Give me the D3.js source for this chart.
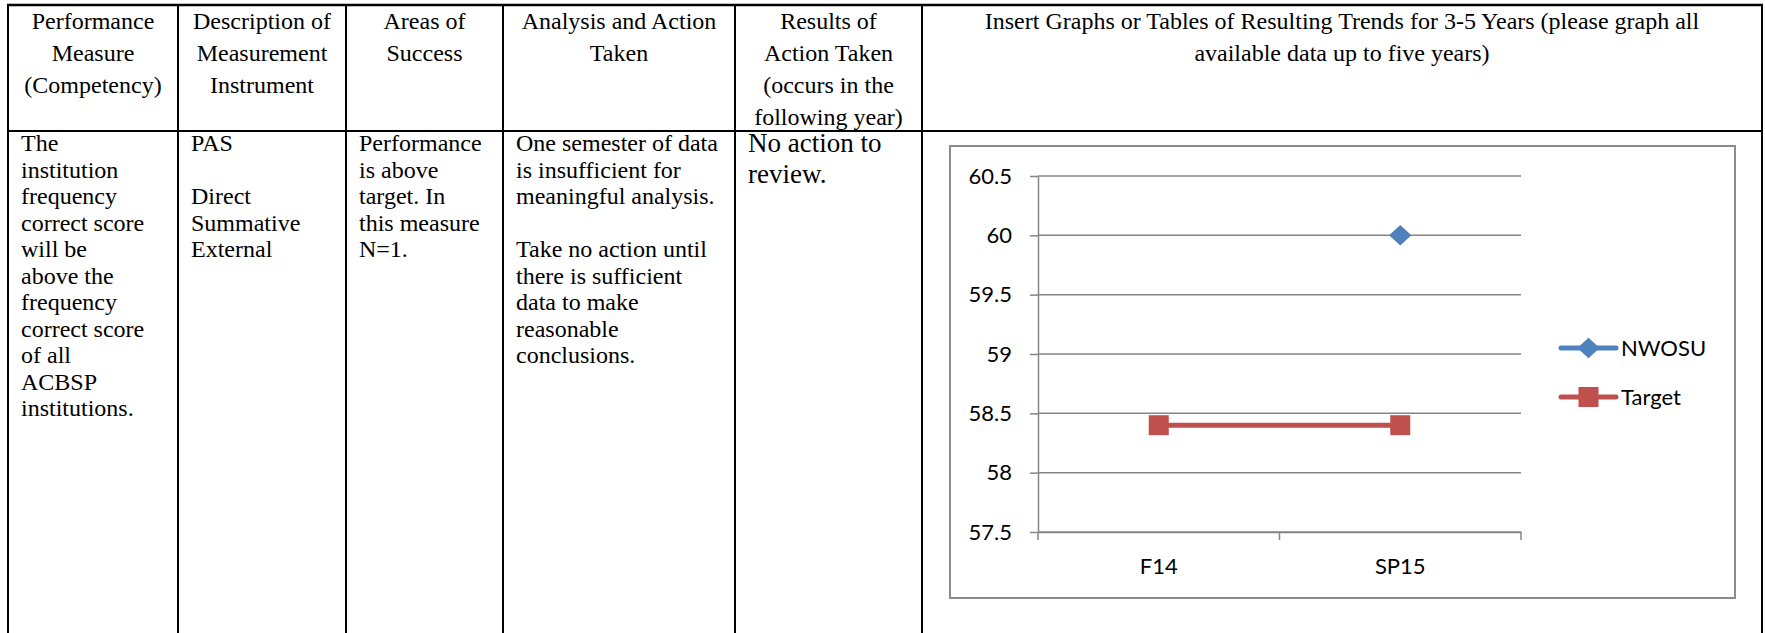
<!DOCTYPE html>
<html>
<head>
<meta charset="utf-8">
<script src="https://cdn.jsdelivr.net/npm/d3@7"></script>
<style>
  html, body { margin: 0; padding: 0; background: #fff; }
  svg { display: block; }
  .cell { font-family: "Liberation Serif", "Times New Roman", serif; font-size: 24px; fill: #000; }
  .chartText { font-family: Lato, "Open Sans", sans-serif; font-size: 22px; fill: #000; }
</style>
</head>
<body>
<div id="page"></div>
<script>
// table texts
const headers = [
  ["Performance", "Measure", "(Competency)"],
  ["Description of", "Measurement", "Instrument"],
  ["Areas of", "Success"],
  ["Analysis and Action", "Taken"],
  ["Results of", "Action Taken", "(occurs in the", "following year)"],
  ["Insert Graphs or Tables of Resulting Trends for 3-5 Years (please graph all", "available data up to five years)"]
];
const bodyText = [
  ["The", "institution", "frequency", "correct score", "will be", "above the", "frequency", "correct score", "of all", "ACBSP", "institutions."],
  ["PAS", "", "Direct", "Summative", "External"],
  ["Performance", "is above", "target. In", "this measure", "N=1."],
  ["One semester of data", "is insufficient for", "meaningful analysis.", "", "Take no action until", "there is sufficient", "data to make", "reasonable", "conclusions."],
  ["No action to", "review."]
];

// chart data
const categories = ["F14", "SP15"];
const nwosu = [null, 60];
const target = [58.4, 58.4];
const yTicks = [57.5, 58, 58.5, 59, 59.5, 60, 60.5];
const seriesNames = ["NWOSU", "Target"];
const seriesColors = ["#4F81BD", "#C0504D"];

const width = 1765, height = 633;
const colX = [8, 178, 346, 503, 735, 922, 1762];
const topY = 5, ruleY = 131;

const svg = d3.select("#page")
  .append("svg")
    .attr("width", width)
    .attr("height", height);

// table grid
const grid = svg.append("g");
grid.append("line")
  .attr("x1", colX[0] - 1).attr("x2", colX[colX.length - 1] + 1)
  .attr("y1", topY).attr("y2", topY)
  .attr("stroke", "#000").attr("stroke-width", 2.5);
grid.append("line")
  .attr("x1", colX[0] - 1).attr("x2", colX[colX.length - 1] + 1)
  .attr("y1", ruleY).attr("y2", ruleY)
  .attr("stroke", "#000").attr("stroke-width", 2);
grid.selectAll("line.col")
  .data(colX)
  .join("line")
    .attr("class", "col")
    .attr("x1", d => d).attr("x2", d => d)
    .attr("y1", topY).attr("y2", height)
    .attr("stroke", "#000").attr("stroke-width", 2);

// header cells, centred
headers.forEach((lines, i) => {
  const cx = (colX[i] + colX[i + 1]) / 2;
  svg.append("g").selectAll("text")
    .data(lines)
    .join("text")
      .attr("class", "cell")
      .attr("x", cx)
      .attr("y", (d, j) => 29 + j * 32)
      .attr("text-anchor", "middle")
      .text(d => d);
});

// body cells, left aligned
bodyText.forEach((lines, i) => {
  const big = i === 4;
  svg.append("g").selectAll("text")
    .data(lines)
    .join("text")
      .attr("class", "cell")
      .style("font-size", big ? "27px" : null)
      .attr("x", colX[i] + 13)
      .attr("y", (d, j) => (big ? 152 : 151) + j * (big ? 31 : 26.5))
      .text(d => d);
});

// chart
const frame = {left: 950, top: 146, right: 1735, bottom: 598};
svg.append("rect")
  .attr("x", frame.left).attr("y", frame.top)
  .attr("width", frame.right - frame.left)
  .attr("height", frame.bottom - frame.top)
  .attr("fill", "#fff")
  .attr("stroke", "#8c8c8c")
  .attr("stroke-width", 2);

const x = d3.scaleBand()
  .domain(categories)
  .range([1038, 1521]);
const y = d3.scaleLinear()
  .domain([57.5, 60.5])
  .range([532, 176]);

const chart = svg.append("g");

// gridlines
chart.append("g")
  .selectAll("line")
  .data(yTicks)
  .join("line")
    .attr("x1", x.range()[0]).attr("x2", x.range()[1])
    .attr("y1", d => y(d)).attr("y2", d => y(d))
    .attr("stroke", "#868686").attr("stroke-width", 1.5);

// Y axis
const yAxis = chart.append("g")
  .attr("transform", `translate(${x.range()[0]},0)`)
  .call(d3.axisLeft(y).tickValues(yTicks).tickFormat(d => String(d))
    .tickSizeInner(8).tickSizeOuter(0).tickPadding(18));
yAxis.selectAll("path, line").attr("stroke", "#868686").attr("stroke-width", 1.5);
yAxis.selectAll("text").attr("class", "chartText").attr("fill", "#000");

// X axis
const xAxis = chart.append("g")
  .attr("transform", `translate(0,${y(57.5)})`)
  .call(d3.axisBottom(x).tickSize(0).tickPadding(26));
xAxis.select("path").attr("stroke", "#868686").attr("stroke-width", 1.5);
xAxis.selectAll("text").attr("class", "chartText").attr("fill", "#000");
chart.append("g")
  .selectAll("line")
  .data(categories.map(c => x(c)).concat([x.range()[1]]))
  .join("line")
    .attr("x1", d => d).attr("x2", d => d)
    .attr("y1", y(57.5)).attr("y2", y(57.5) + 8)
    .attr("stroke", "#868686").attr("stroke-width", 1.5);

// markers
const diamond = {
  draw(context, size) {
    const w = Math.sqrt(size) / 2;
    const h = w * 0.92;
    context.moveTo(0, -h);
    context.lineTo(w, 0);
    context.lineTo(0, h);
    context.lineTo(-w, 0);
    context.closePath();
  }
};
const cx = c => x(c) + x.bandwidth() / 2;

const line = d3.line()
  .defined(d => d.v != null)
  .x(d => cx(d.c))
  .y(d => y(d.v));
const targetPts = categories.map((c, i) => ({c: c, v: target[i]}));
const nwosuPts = categories.map((c, i) => ({c: c, v: nwosu[i]}));

chart.append("path")
  .datum(nwosuPts)
  .attr("fill", "none")
  .attr("stroke", seriesColors[0])
  .attr("stroke-width", 5)
  .attr("d", line);
chart.append("path")
  .datum(targetPts)
  .attr("fill", "none")
  .attr("stroke", seriesColors[1])
  .attr("stroke-width", 5)
  .attr("d", line);

chart.append("g")
  .selectAll("path")
  .data(nwosuPts.filter(d => d.v != null))
  .join("path")
    .attr("transform", d => `translate(${cx(d.c)},${y(d.v)})`)
    .attr("d", d3.symbol().type(diamond).size(500))
    .attr("fill", seriesColors[0]);
chart.append("g")
  .selectAll("rect")
  .data(targetPts)
  .join("rect")
    .attr("x", d => cx(d.c) - 10).attr("y", d => y(d.v) - 10)
    .attr("width", 20).attr("height", 20)
    .attr("fill", seriesColors[1]);

// legend
const legend = chart.append("g")
  .selectAll("g")
  .data(seriesNames)
  .join("g")
    .attr("transform", (d, i) => `translate(1561,${348 + i * 49})`);
legend.append("line")
  .attr("x1", 0).attr("x2", 55)
  .attr("stroke", (d, i) => seriesColors[i])
  .attr("stroke-width", 5)
  .attr("stroke-linecap", "round");
legend.filter((d, i) => i === 0).append("path")
  .attr("transform", "translate(27.5,0)")
  .attr("d", d3.symbol().type(diamond).size(500))
  .attr("fill", seriesColors[0]);
legend.filter((d, i) => i === 1).append("rect")
  .attr("x", 17.5).attr("y", -10)
  .attr("width", 20).attr("height", 20)
  .attr("fill", seriesColors[1]);
legend.append("text")
  .attr("class", "chartText")
  .attr("x", 60)
  .attr("y", 8)
  .text(d => d);
</script>
</body>
</html>
